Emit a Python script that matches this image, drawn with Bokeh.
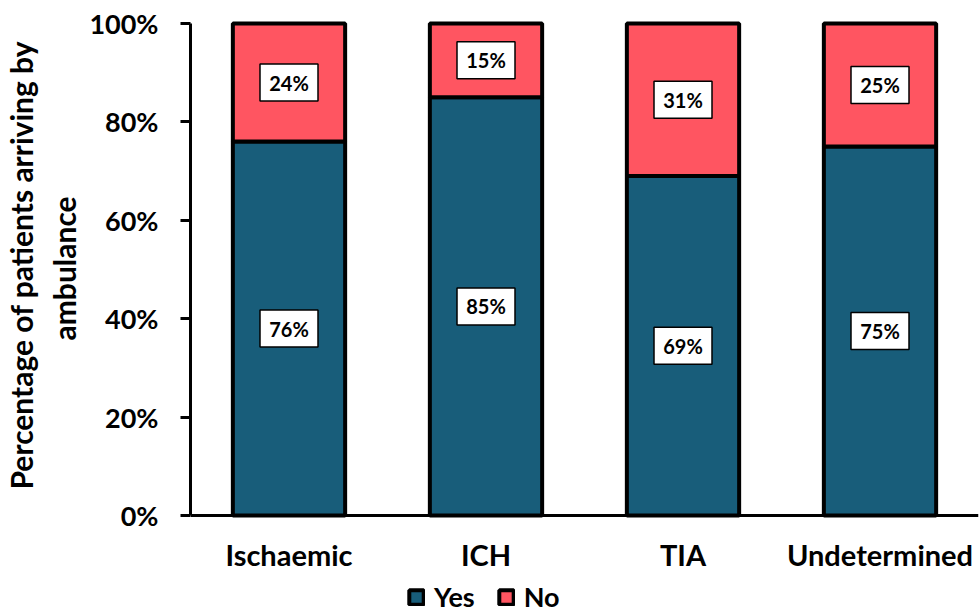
from bokeh.plotting import figure
from bokeh.models import (ColumnDataSource, FactorRange, Range1d, FixedTicker,
                          PrintfTickFormatter, Legend, LegendItem, Title)
from bokeh.core.properties import value
from bokeh.embed import file_html
from bokeh.resources import INLINE

# Share of patients arriving by ambulance, by stroke type
categories = ["Ischaemic", "ICH", "TIA", "Undetermined"]
yes_pct = [76, 85, 69, 75]
no_pct = [24, 15, 31, 25]
y_ticks = [0, 20, 40, 60, 80, 100]
series = ["Yes", "No"]
y_title = ["Percentage of patients arriving by", "ambulance"]

YES_COLOR = "#185D7A"
NO_COLOR = "#FF5561"
FONT = "Lato"

src = ColumnDataSource(dict(cat=categories, Yes=yes_pct, No=no_pct))

# the frame reaches the bottom edge so the legend can sit under the
# category axis, which is pinned at y = 0
p = figure(
    x_range=FactorRange(factors=categories, range_padding=0),
    y_range=Range1d(-19.9, 100.6),
    width=979, height=613,
    output_backend="svg", toolbar_location=None,
    min_border_left=189, min_border_right=1,
    min_border_top=20, min_border_bottom=0,
)

bars = p.vbar_stack(
    series, x="cat", width=0.57, source=src,
    fill_color=[YES_COLOR, NO_COLOR], line_color="black", line_width=4,
)

# value labels in white boxes at the middle of each segment
mids = [y / 2 for y in yes_pct] + [y + n / 2 for y, n in zip(yes_pct, no_pct)]
texts = [f"{v}%" for v in yes_pct] + [f"{v}%" for v in no_pct]
lab = ColumnDataSource(dict(cat=categories * 2, mid=mids, txt=texts))
p.rect(x="cat", y="mid", width=58, height=37, width_units="screen",
       height_units="screen", fill_color="white", line_color="black",
       line_width=1.5, source=lab)
p.text(x="cat", y="mid", text="txt", source=lab,
       text_font=value(FONT), text_font_style="bold", text_font_size="20px",
       text_align="center", text_baseline="middle", text_color="black")

# axes
p.xgrid.grid_line_color = None
p.ygrid.grid_line_color = None
p.outline_line_color = None

p.xaxis.fixed_location = 0
p.xaxis.major_tick_line_color = None
p.xaxis.minor_tick_line_color = None
p.xaxis.axis_line_width = 3
p.xaxis.axis_line_color = "black"
p.xaxis.major_label_text_font = FONT
p.xaxis.major_label_text_font_style = "bold"
p.xaxis.major_label_text_font_size = "29px"
p.xaxis.major_label_text_color = "black"
p.xaxis.major_label_standoff = 15

p.yaxis.bounds = (0, 100)
p.yaxis.ticker = FixedTicker(ticks=y_ticks)
p.yaxis.formatter = PrintfTickFormatter(format="%d%%")
p.yaxis.major_tick_out = 10
p.yaxis.major_tick_in = 0
p.yaxis.major_tick_line_width = 3
p.yaxis.minor_tick_line_color = None
p.yaxis.axis_line_width = 3
p.yaxis.axis_line_color = "black"
p.yaxis.major_label_text_font = FONT
p.yaxis.major_label_text_font_style = "bold"
p.yaxis.major_label_text_font_size = "27px"
p.yaxis.major_label_text_color = "black"
p.yaxis.major_label_standoff = 22

# two-line y title, each line centred on the 0-100% span of the axis
for line, offset, gap in zip(reversed(y_title), (273, 124), (10, 0)):
    p.add_layout(Title(text=line, align="left", offset=offset,
                       text_font=FONT, text_font_style="bold",
                       text_font_size="30px", text_color="black",
                       standoff=gap), "left")

legend = Legend(
    items=[LegendItem(label=name, renderers=[r]) for name, r in zip(series, bars)],
    orientation="horizontal", location=(217, 0),
    glyph_width=18, glyph_height=18,
    label_text_font=FONT, label_text_font_style="bold",
    label_text_font_size="27px", label_text_color="black",
    label_standoff=9, spacing=22, padding=0, margin=0,
    border_line_color=None, background_fill_alpha=0,
)
p.add_layout(legend)

open("out.html", "w").write(file_html(p, INLINE))
